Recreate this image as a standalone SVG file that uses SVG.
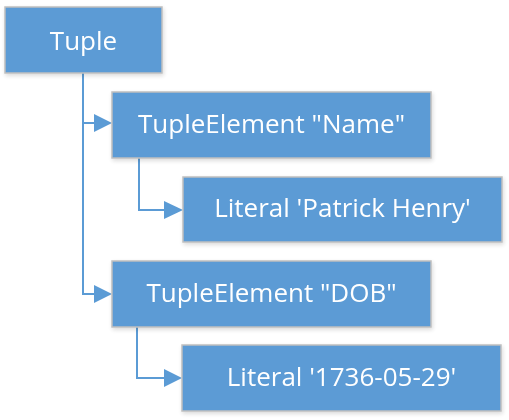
<svg xmlns="http://www.w3.org/2000/svg" width="509" height="420" viewBox="0 0 509 420">
<defs>
<filter id="sh" x="-10%" y="-20%" width="130%" height="150%">
<feGaussianBlur in="SourceAlpha" stdDeviation="2"/>
<feOffset dx="1" dy="2"/>
<feComponentTransfer><feFuncA type="linear" slope="0.15"/></feComponentTransfer>
<feMerge><feMergeNode/><feMergeNode in="SourceGraphic"/></feMerge>
</filter>
</defs>
<style>
.box{fill:#5B9BD5;stroke:#BFBFBF;stroke-width:1.5}
.lbl{fill:#FFFFFF;font-family:"Open Sans","Noto Sans",sans-serif;font-size:26px;text-anchor:middle}
.con{fill:none;stroke:#5B9BD5;stroke-width:2}
.ah{fill:#5B9BD5}
</style>
<g id="connectors">
<path class="con" d="M83,73 V294 H96"/>
<path class="con" d="M83,123 H96"/>
<polygon class="ah" points="94,114 112,123 94,132"/>
<polygon class="ah" points="94,285 112,294 94,303"/>
<path class="con" d="M139,158 V210 H166"/>
<polygon class="ah" points="164,201 183,210 164,219"/>
<path class="con" d="M137,327 V378 H166"/>
<polygon class="ah" points="164,369 182,378 164,387"/>
</g>
<g id="tuple" filter="url(#sh)">
<rect class="box" x="5" y="7" width="157" height="66"/>
<text class="lbl" x="83.5" y="50">Tuple</text>
</g>
<g id="elem-name" filter="url(#sh)">
<rect class="box" x="112" y="92" width="319" height="66"/>
<text class="lbl" x="271.5" y="133">TupleElement "Name"</text>
</g>
<g id="lit-name" filter="url(#sh)">
<rect class="box" x="183" y="177" width="319" height="65"/>
<text class="lbl" x="342.5" y="217">Literal 'Patrick Henry'</text>
</g>
<g id="elem-dob" filter="url(#sh)">
<rect class="box" x="112" y="261" width="319" height="66"/>
<text class="lbl" x="271.5" y="302">TupleElement "DOB"</text>
</g>
<g id="lit-dob" filter="url(#sh)">
<rect class="box" x="182" y="345" width="319" height="66"/>
<text class="lbl" x="341.5" y="386">Literal '1736-05-29'</text>
</g>
</svg>
